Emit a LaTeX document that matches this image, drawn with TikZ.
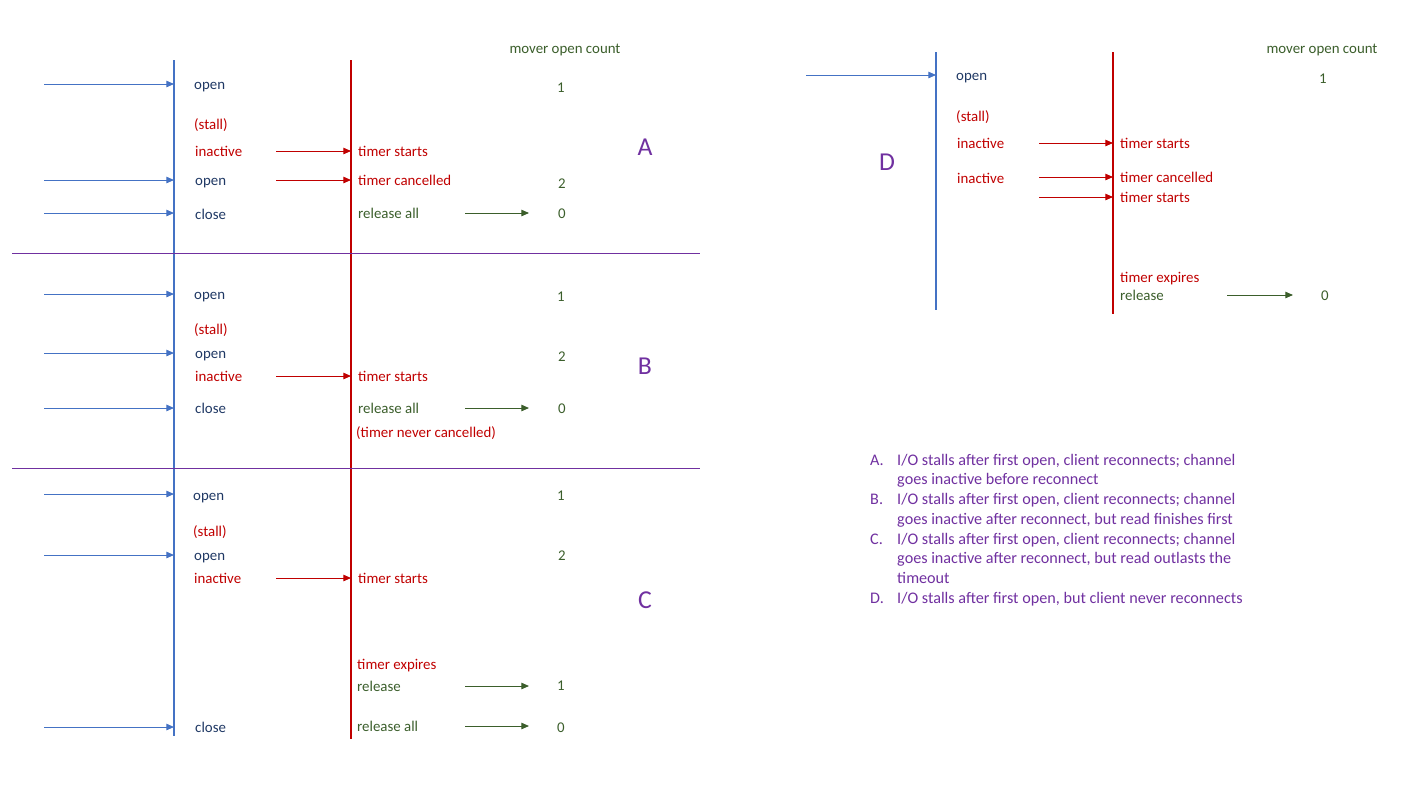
\documentclass[tikz,border=0pt]{standalone}
\usepackage{fontspec}
\setmainfont{Carlito}
\usetikzlibrary{arrows.meta}

\definecolor{laneblue}{HTML}{4472C4}
\definecolor{lanered}{HTML}{C00000}
\definecolor{evtnavy}{HTML}{1F3864}
\definecolor{relgreen}{HTML}{3B5E2B}
\definecolor{casepurple}{HTML}{7030A0}

\tikzset{
  lbl/.style={anchor=west, inner sep=0pt, text height=11.5pt, text depth=2pt,
    font=\fontsize{12.7}{15}\selectfont},
  evt/.style={lbl, text=evtnavy},
  warn/.style={lbl, text=lanered},
  rel/.style={lbl, text=relgreen},
  cnt/.style={inner sep=0pt, text height=11.5pt, text depth=2pt, text=relgreen,
    font=\fontsize{12.7}{15}\selectfont},
  tag/.style={inner sep=0pt, text=casepurple, font=\fontsize{22}{24}\selectfont},
  legend/.style={anchor=west, inner sep=0pt, text height=13pt, text depth=2pt,
    text=casepurple, font=\fontsize{13.8}{16}\selectfont},
  lane/.style={line width=2.4pt},
  tip/.style={-{Triangle[length=6.5pt,width=5.5pt]}, line width=0.8pt},
  inarrow/.style={tip, laneblue},
  tarrow/.style={tip, lanered},
  garrow/.style={tip, relgreen}
}

\begin{document}
\begin{tikzpicture}[x=0.03cm, y=-0.03cm]
  \useasboundingbox (0,0) rectangle (1422,800);

  % lanes, left panel
  \coordinate (blueTop) at (174,60);
  \coordinate (blueBot) at (174,736);
  \coordinate (redTop) at (351,60);
  \coordinate (redBot) at (351,739);
  \draw[lane, laneblue] (blueTop) -- (blueBot);
  \draw[lane, lanered] (redTop) -- (redBot);

  % separators between cases
  \coordinate (sepAl) at (12,253);
  \coordinate (sepAr) at (700,253);
  \coordinate (sepBl) at (12,468);
  \coordinate (sepBr) at (700,468);
  \draw[casepurple, line width=0.8pt] (sepAl) -- (sepAr);
  \draw[casepurple, line width=0.8pt] (sepBl) -- (sepBr);

  % client events into the blue lane
  \foreach \y [count=\i] in {84,180,213,294,353,408,494,555,727} {
    \coordinate (in\i) at (44,\y);
    \coordinate (hit\i) at (174,\y);
    \draw[inarrow] (in\i) -- (hit\i);
  }

  % inactive / open into the red lane
  \foreach \y [count=\i] in {151,180,376,578} {
    \coordinate (tx\i) at (276,\y);
    \coordinate (tr\i) at (351,\y);
    \draw[tarrow] (tx\i) -- (tr\i);
  }

  % releases into the count column
  \foreach \y [count=\i] in {213,408,686,726} {
    \coordinate (gs\i) at (465,\y);
    \coordinate (ge\i) at (529,\y);
    \draw[garrow] (gs\i) -- (ge\i);
  }

  \node[rel, anchor=center] (countHead) at (565,48) {mover open count};

  % case A
  \node[evt] (aOpen) at (194,84) {open};
  \node[warn] (aStall) at (194,124) {(stall)};
  \node[warn] (aInact) at (195,151) {inactive};
  \node[evt] (aReopen) at (195,180) {open};
  \node[evt] (aClose) at (195,214) {close};
  \node[warn] (aStart) at (358,151) {timer starts};
  \node[warn] (aCancel) at (358,180) {timer cancelled};
  \node[rel] (aRelAll) at (358,213) {release all};
  \node[cnt] (aN1) at (561,87) {1};
  \node[cnt] (aN2) at (562,183) {2};
  \node[cnt] (aN0) at (562,213) {0};
  \node[tag] (caseA) at (645,147) {A};

  % case B
  \node[evt] (bOpen) at (194,294) {open};
  \node[warn] (bStall) at (194,329) {(stall)};
  \node[evt] (bReopen) at (195,353) {open};
  \node[warn] (bInact) at (195,376) {inactive};
  \node[evt] (bClose) at (195,408) {close};
  \node[warn] (bStart) at (358,376) {timer starts};
  \node[rel] (bRelAll) at (358,408) {release all};
  \node[warn] (bNever) at (356,432) {(timer never cancelled)};
  \node[cnt] (bN1) at (561,296) {1};
  \node[cnt] (bN2) at (562,356) {2};
  \node[cnt] (bN0) at (562,408) {0};
  \node[tag] (caseB) at (645,366) {B};

  % case C
  \node[evt] (cOpen) at (193,495) {open};
  \node[warn] (cStall) at (193,531) {(stall)};
  \node[evt] (cReopen) at (194,555) {open};
  \node[warn] (cInact) at (194,578) {inactive};
  \node[evt] (cClose) at (195,727) {close};
  \node[warn] (cStart) at (358,578) {timer starts};
  \node[warn] (cExpire) at (357,664) {timer expires};
  \node[rel] (cRel) at (357,686) {release};
  \node[rel] (cRelAll) at (357,726) {release all};
  \node[cnt] (cN1) at (561,495) {1};
  \node[cnt] (cN2) at (562,555) {2};
  \node[cnt] (cN1b) at (561,685) {1};
  \node[cnt] (cN0) at (561,727) {0};
  \node[tag] (caseC) at (645,600) {C};

  % case D, right panel
  \coordinate (dBlueTop) at (936,52);
  \coordinate (dBlueBot) at (936,310);
  \coordinate (dRedTop) at (1113,52);
  \coordinate (dRedBot) at (1113,314);
  \draw[lane, laneblue] (dBlueTop) -- (dBlueBot);
  \draw[lane, lanered] (dRedTop) -- (dRedBot);

  \coordinate (dIn) at (806,75);
  \coordinate (dHit) at (936,75);
  \draw[inarrow] (dIn) -- (dHit);
  \foreach \y [count=\i] in {143,177,197} {
    \coordinate (dtx\i) at (1039,\y);
    \coordinate (dtr\i) at (1113,\y);
    \draw[tarrow] (dtx\i) -- (dtr\i);
  }
  \coordinate (dgs) at (1227,295);
  \coordinate (dge) at (1293,295);
  \draw[garrow] (dgs) -- (dge);

  \node[rel, anchor=center] (dCountHead) at (1322,48) {mover open count};
  \node[evt] (dOpen) at (956,75) {open};
  \node[warn] (dStall) at (956,116) {(stall)};
  \node[warn] (dInact) at (957,143) {inactive};
  \node[warn] (dInact2) at (957,178) {inactive};
  \node[warn] (dStart) at (1120,143) {timer starts};
  \node[warn] (dCancel) at (1120,177) {timer cancelled};
  \node[warn] (dStart2) at (1120,197) {timer starts};
  \node[warn] (dExpire) at (1120,277) {timer expires};
  \node[rel] (dRel) at (1120,295) {release};
  \node[cnt] (dN1) at (1323,78) {1};
  \node[cnt] (dN0) at (1325,295) {0};
  \node[tag] (caseD) at (887,162) {D};

  % legend
  \node[legend] (kA) at (870,459) {A.};
  \node[legend] (kA1) at (897,459) {I/O stalls after first open, client reconnects; channel};
  \node[legend] (kA2) at (897,478) {goes inactive before reconnect};
  \node[legend] (kB) at (870,498) {B.};
  \node[legend] (kB1) at (897,498) {I/O stalls after first open, client reconnects; channel};
  \node[legend] (kB2) at (897,518) {goes inactive after reconnect, but read finishes first};
  \node[legend] (kC) at (870,538) {C.};
  \node[legend] (kC1) at (897,538) {I/O stalls after first open, client reconnects; channel};
  \node[legend] (kC2) at (897,557) {goes inactive after reconnect, but read outlasts the};
  \node[legend] (kC3) at (897,577) {timeout};
  \node[legend] (kD) at (870,597) {D.};
  \node[legend] (kD1) at (897,597) {I/O stalls after first open, but client never reconnects};
\end{tikzpicture}
\end{document}
